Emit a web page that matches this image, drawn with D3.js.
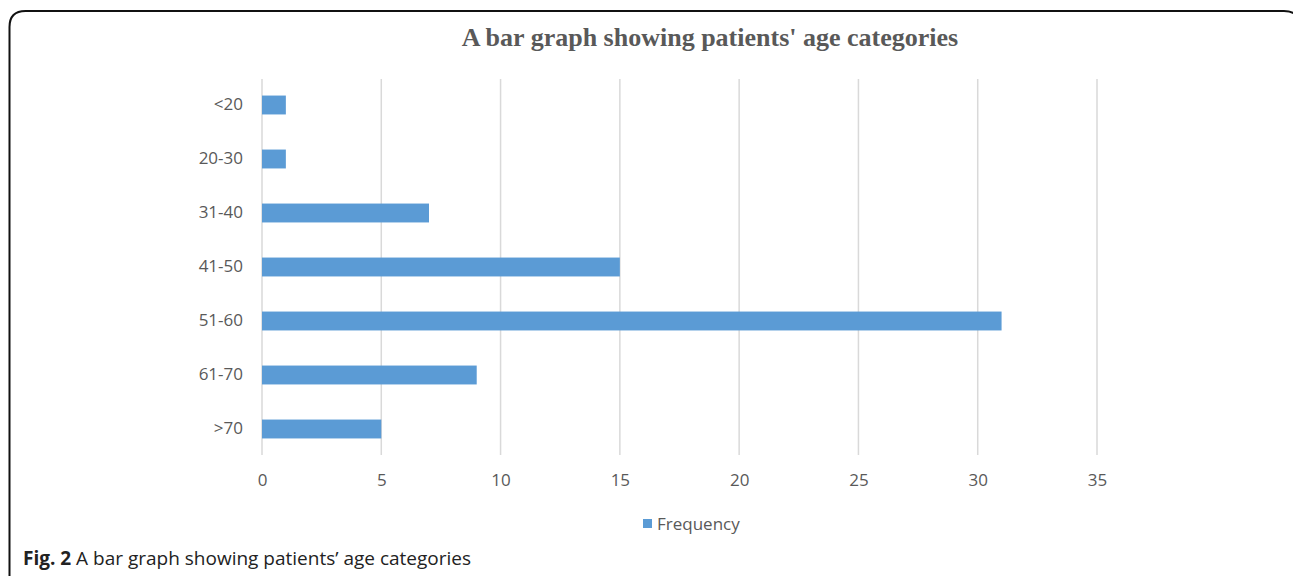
<!DOCTYPE html>
<html lang="en">
<head>
<meta charset="UTF-8" />
<title>Patients' age categories</title>
<script src="https://d3js.org/d3.v7.min.js"></script>
<style>
  body { margin: 0; background: #fff; }
  svg { display: block; }
</style>
</head>
<body>
<div id="chart"></div>
<script>
// data
const categories = ["<20", "20-30", "31-40", "41-50", "51-60", "61-70", ">70"];
const frequency = [1, 1, 7, 15, 31, 9, 5];
const xTicks = [0, 5, 10, 15, 20, 25, 30, 35];

const width = 1293, height = 576;
const grey = "#595959";
const labelFont = "Open Sans, sans-serif";

const svg = d3.select("#chart").append("svg")
  .attr("width", width)
  .attr("height", height);

// frame with rounded top corners (right side runs off the page)
const r = 16;
svg.append("path")
  .attr("d", `M9.5,${height + 5} L9.5,${11 + r} Q9.5,11 ${9.5 + r},11 L${1300 - r},11 Q1300,11 1300,${11 + r} L1300,${height + 5}`)
  .attr("fill", "none")
  .attr("stroke", "#111")
  .attr("stroke-width", 2);

svg.append("text")
  .attr("x", 710)
  .attr("y", 46)
  .attr("text-anchor", "middle")
  .attr("font-family", "Liberation Serif, serif")
  .attr("font-weight", "bold")
  .attr("font-size", 26)
  .attr("fill", grey)
  .text("A bar graph showing patients' age categories");

const x = d3.scaleLinear().domain([0, 35]).range([262, 1097]);
const y = d3.scaleBand().domain(categories).range([78, 456]).paddingInner(0.65).paddingOuter(0.325);

// vertical gridlines
svg.append("g")
  .selectAll("line")
  .data(xTicks)
  .join("line")
  .attr("x1", d => x(d)).attr("x2", d => x(d))
  .attr("y1", 79).attr("y2", 455)
  .attr("stroke", "#d9d9d9")
  .attr("stroke-width", 1.5);

// bars
svg.append("g")
  .selectAll("rect")
  .data(frequency)
  .join("rect")
  .attr("x", x(0))
  .attr("y", (d, i) => y(categories[i]))
  .attr("width", d => x(d) - x(0))
  .attr("height", y.bandwidth())
  .attr("fill", "#5b9bd5");

// x tick labels
const xAxis = svg.append("g")
  .attr("transform", "translate(0,455)")
  .call(d3.axisBottom(x).tickValues(xTicks).tickSize(0).tickPadding(19));
xAxis.select(".domain").remove();
xAxis.selectAll("text")
  .attr("font-family", labelFont)
  .attr("font-size", 17)
  .attr("fill", grey);

// category labels
const yAxis = svg.append("g")
  .attr("transform", "translate(262,0)")
  .call(d3.axisLeft(y).tickSize(0).tickPadding(19));
yAxis.select(".domain").remove();
yAxis.selectAll("text")
  .attr("font-family", labelFont)
  .attr("font-size", 17)
  .attr("fill", grey);

// legend
svg.append("rect")
  .attr("x", 643).attr("y", 519)
  .attr("width", 9).attr("height", 9)
  .attr("fill", "#5b9bd5");
svg.append("text")
  .attr("x", 657).attr("y", 530)
  .attr("font-family", labelFont)
  .attr("font-size", 17)
  .attr("fill", grey)
  .text("Frequency");

// caption
const cap = svg.append("text")
  .attr("x", 23).attr("y", 565)
  .attr("font-family", "Open Sans, sans-serif")
  .attr("font-size", 19)
  .attr("fill", "#222");
cap.append("tspan").attr("font-weight", "bold").text("Fig. 2");
cap.append("tspan").text(" A bar graph showing patients’ age categories");
</script>
</body>
</html>
